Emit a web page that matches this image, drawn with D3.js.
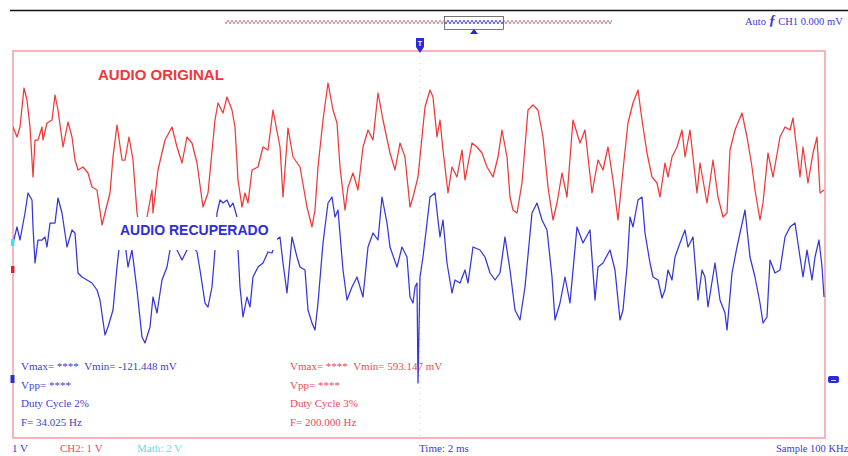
<!DOCTYPE html>
<html>
<head>
<meta charset="utf-8">
<script src="https://cdn.jsdelivr.net/npm/d3@7"></script>
<style>
  html, body { margin: 0; padding: 0; background: #fff; }
  svg { display: block; }
</style>
</head>
<body>
<div id="scope"></div>
<script>
// Time axis in ms (2 ms/div), amplitude in volts (1 V/div)
const originalTime = [0,0.1,0.175,0.275,0.35,0.425,0.5,0.55,0.625,0.725,0.75,0.85,0.975,1.05,1.125,1.25,1.375,1.475,1.55,1.625,1.75,1.875,1.975,2.1,2.225,2.3,2.425,2.5,2.6,2.725,2.8,2.9,3.0,3.1,3.225,3.35,3.475,3.5,3.625,3.8,3.975,4.1,4.225,4.35,4.475,4.6,4.75,4.875,5.05,5.125,5.25,5.35,5.475,5.55,5.625,5.725,5.8,5.875,5.975,6.125,6.25,6.375,6.5,6.675,6.75,6.875,7.0,7.175,7.35,7.475,7.55,7.625,7.75,7.875,8.0,8.1,8.175,8.3,8.375,8.5,8.625,8.75,8.875,9.0,9.125,9.25,9.425,9.55,9.675,9.8,9.925,10.0,10.125,10.3,10.425,10.5,10.6,10.675,10.75,10.875,10.975,11.1,11.225,11.3,11.475,11.6,11.725,11.85,12.0,12.125,12.225,12.35,12.425,12.5,12.6,12.725,12.875,13.0,13.125,13.25,13.375,13.5,13.6,13.725,13.85,14.0,14.175,14.3,14.475,14.625,14.75,14.875,15.0,15.125,15.25,15.375,15.5,15.625,15.725,15.85,15.975,16.1,16.175,16.3,16.375,16.475,16.6,16.725,16.8,16.925,17.1,17.175,17.35,17.5,17.625,17.75,17.85,17.925,18.05,18.225,18.35,18.475,18.55,18.675,18.75,18.875,19.0,19.175,19.3,19.425,19.5,19.675,19.75,19.875,20.0,20.1,20.175,20.275];
const originalVolts = [2.34,2.14,2.34,3.12,2.88,2.34,1.34,2.08,2.08,2.34,2.08,2.42,2.48,2.98,2.68,1.94,2.44,2.14,1.68,1.48,1.54,1.42,1.14,1.08,0.38,0.62,1.02,1.74,2.38,1.68,1.68,2.14,1.68,0.62,0.08,0.54,1.08,0.62,1.48,2.08,2.34,1.94,1.62,2.14,2.02,1.62,0.74,1.02,2.48,2.82,2.62,2.94,2.68,2.34,1.28,0.74,1.02,0.82,1.48,1.54,1.94,1.88,2.68,1.94,0.94,2.32,1.74,1.54,0.74,0.34,0.68,1.54,2.48,3.22,2.68,2.42,1.54,0.68,1.14,1.42,1.08,1.94,2.28,2.08,3.02,2.48,1.82,1.48,2.02,1.74,0.74,0.94,1.34,2.74,3.08,2.94,2.14,2.48,1.88,1.02,1.54,1.34,1.88,1.28,2.02,1.94,1.82,1.54,1.34,1.74,2.28,1.74,0.94,0.68,0.62,1.22,2.68,2.78,2.68,2.14,1.14,0.48,0.82,1.42,0.94,2.48,2.02,2.28,1.02,1.68,1.48,1.94,1.28,0.48,1.48,2.42,2.82,3.08,2.48,1.82,1.34,1.22,0.94,1.62,1.34,1.74,1.94,2.28,1.74,2.28,1.02,1.62,0.82,1.68,0.94,0.54,0.62,1.88,2.28,2.62,2.14,1.54,1.08,0.48,0.82,1.82,1.34,2.14,2.34,2.28,2.52,1.34,1.94,1.22,1.82,2.14,1.02,1.08];

const recoveredTime = [0,0.1,0.175,0.3,0.375,0.475,0.5,0.55,0.625,0.725,0.8,0.85,0.925,1.05,1.125,1.225,1.35,1.475,1.55,1.625,1.725,1.85,1.975,2.1,2.175,2.3,2.375,2.5,2.6,2.675,2.775,2.875,2.975,3.1,3.225,3.3,3.425,3.5,3.6,3.725,3.85,3.925,4.025,4.1,4.225,4.35,4.475,4.6,4.675,4.8,4.875,4.975,5.05,5.1,5.175,5.25,5.35,5.425,5.5,5.6,5.625,5.675,5.75,5.85,5.925,6.0,6.125,6.25,6.375,6.475,6.575,6.675,6.75,6.85,6.975,7.1,7.175,7.3,7.375,7.475,7.55,7.625,7.75,7.875,7.975,8.05,8.125,8.25,8.35,8.475,8.6,8.75,8.875,9.0,9.125,9.225,9.35,9.425,9.6,9.725,9.85,9.925,10.0,10.05,10.1,10.125,10.175,10.25,10.35,10.425,10.55,10.625,10.675,10.75,10.85,10.975,11.05,11.175,11.3,11.375,11.5,11.675,11.8,11.925,12.05,12.175,12.3,12.425,12.55,12.675,12.8,12.975,13.1,13.225,13.35,13.475,13.55,13.675,13.8,13.925,14.1,14.25,14.425,14.55,14.625,14.75,14.925,15.05,15.175,15.25,15.35,15.425,15.5,15.625,15.725,15.8,15.925,16.0,16.125,16.225,16.3,16.375,16.475,16.55,16.675,16.8,16.875,17.0,17.125,17.225,17.3,17.375,17.55,17.675,17.8,17.85,17.975,18.1,18.3,18.425,18.55,18.675,18.75,18.85,18.925,19.05,19.175,19.3,19.425,19.55,19.675,19.75,19.85,19.975,20.05,20.15,20.225,20.275];
const recoveredVolts = [0.02,0.34,0.08,0.62,1.02,0.88,0.34,-0.38,0.08,0.08,0.14,-0.06,0.42,0.42,0.92,0.62,-0.06,0.28,0.22,-0.58,-0.66,-0.72,-0.78,-0.92,-1.12,-1.82,-1.66,-1.32,-0.46,0.08,0.18,-0.46,-0.12,-0.92,-1.86,-1.98,-1.66,-1.06,-1.38,-0.72,-0.46,-0.12,0.08,-0.12,-0.32,-0.12,-0.02,-0.16,-0.52,-1.18,-1.26,-0.86,-0.12,0.62,0.88,0.82,0.88,0.74,0.82,0.54,-0.12,-0.86,-1.46,-1.06,-1.26,-0.66,-0.46,-0.38,-0.16,-0.18,0.08,0.14,-0.38,-0.98,0.14,-0.26,-0.46,-0.52,-1.32,-1.58,-1.72,-1.18,0.02,0.82,0.94,0.54,0.68,-0.52,-1.12,-0.86,-0.66,-1.06,-0.06,0.22,0.08,0.94,0.42,-0.06,-0.46,-0.06,-0.26,-1.06,-1.18,-0.86,-0.78,-2.78,-0.66,-0.26,0.42,0.94,1.02,0.48,0.14,0.48,-0.38,-0.98,-0.72,-0.78,-0.52,-0.78,-0.06,-0.12,-0.26,-0.58,-0.72,-0.58,0.14,-0.52,-1.32,-1.52,-0.86,0.62,0.82,0.48,0.28,-0.66,-1.52,-1.18,-0.66,-1.18,0.34,0.02,0.28,-1.12,-0.46,-0.38,-0.12,-0.52,-1.52,-1.32,-0.46,0.54,0.34,0.88,0.94,0.22,-0.38,-0.66,-0.72,-1.08,-0.92,-0.52,-0.72,-0.26,0.02,0.28,-0.06,0.14,-1.12,-0.52,-0.66,-1.26,-0.38,-1.12,-1.38,-1.72,-0.58,-0.06,0.68,-0.26,-0.66,-1.18,-1.58,-1.46,-0.32,-0.58,-0.52,0.14,0.34,0.42,-0.26,-0.66,-0.12,-0.72,-0.26,0.08,-0.46,-1.06];

// Readouts
const ch1Readout = ["Vmax= ****  Vmin= -121.448 mV", "Vpp= ****", "Duty Cycle 2%", "F= 34.025 Hz"];
const ch2Readout = ["Vmax= ****  Vmin= 593.147 mV", "Vpp= ****", "Duty Cycle 3%", "F= 200.000 Hz"];
const statusItems = [
  { text: "1 V", color: "#3a3ad8", x: 12 },
  { text: "CH2: 1 V", color: "#f04a5a", x: 60 },
  { text: "Math: 2 V", color: "#5fe0ea", x: 137 },
  { text: "Time: 2 ms", color: "#3a3ad8", x: 419 },
  { text: "Sample 100 KHz", color: "#3a3ad8", x: 776 }
];

const W = 848, H = 456;
const RED = "#f03838", BLUE = "#3535dc", FRAME = "#f6a2ac";
const serif = "'Liberation Serif', 'Times New Roman', serif";
const sans = "'Liberation Sans', Arial, sans-serif";

const svg = d3.select("#scope").append("svg").attr("width", W).attr("height", H);
const plot = { left: 13, right: 825, top: 51, bottom: 438 };

const x = d3.scaleLinear().domain([0, 20.3]).range([plot.left, plot.right]);
const y = d3.scaleLinear().domain([-3.88, 3.86]).range([plot.bottom, plot.top]);

const defs = svg.append("defs");
defs.append("clipPath").attr("id", "plotClip")
  .append("rect").attr("x", plot.left).attr("y", plot.top)
  .attr("width", plot.right - plot.left).attr("height", plot.bottom - plot.top);

// Zigzag tiles for the record overview strip
function zigPattern(id, color) {
  const p = defs.append("pattern").attr("id", id).attr("patternUnits", "userSpaceOnUse")
    .attr("width", 4).attr("height", 8).attr("x", 0).attr("y", 18);
  p.append("path").attr("d", "M0,2 L2,6 L4,2").attr("fill", "none")
    .attr("stroke", color).attr("stroke-width", 1);
}
zigPattern("zigGrey", "#b88a90");
zigPattern("zigBlue", "#4a4ad0");

// Top rule
svg.append("line").attr("x1", 10).attr("x2", W).attr("y1", 10.5).attr("y2", 10.5)
  .attr("stroke", "#111").attr("stroke-width", 1.5);

// Overview strip
svg.append("rect").attr("x", 225).attr("y", 18).attr("width", 387).attr("height", 8)
  .attr("fill", "url(#zigGrey)");
svg.append("rect").attr("x", 444).attr("y", 18).attr("width", 59).attr("height", 8)
  .attr("fill", "#fff");
svg.append("rect").attr("x", 445).attr("y", 18).attr("width", 58).attr("height", 8)
  .attr("fill", "url(#zigBlue)");
svg.append("rect").attr("x", 444.5).attr("y", 16.5).attr("width", 59).attr("height", 13)
  .attr("fill", "none").attr("stroke", "#555").attr("stroke-width", 0.8);
svg.append("path").attr("d", "M470,34 L474,29 L478,34 Z").attr("fill", "#2a2ad0");

// Trigger readout
const trig = svg.append("text").attr("x", 745).attr("y", 25)
  .attr("font-family", serif).attr("font-size", 10.5).attr("fill", "#3a3ad8");
trig.append("tspan").text("Auto ");
trig.append("tspan").attr("font-size", 14).attr("font-weight", "bold").attr("font-style", "italic").text("ƒ");
trig.append("tspan").text(" CH1  0.000 mV");

// Screen frame
svg.append("rect").attr("x", plot.left).attr("y", plot.top)
  .attr("width", plot.right - plot.left).attr("height", plot.bottom - plot.top)
  .attr("fill", "#fff").attr("stroke", FRAME).attr("stroke-width", 1.6);

// Trigger position guide
svg.append("line").attr("x1", 420).attr("x2", 420).attr("y1", plot.top).attr("y2", plot.bottom)
  .attr("stroke", "#c8c8d8").attr("stroke-width", 1).attr("stroke-dasharray", "1,5");

// Traces
const line = d3.line().x(d => x(d[0])).y(d => y(d[1]));
const traces = svg.append("g").attr("clip-path", "url(#plotClip)");
traces.append("path").datum(d3.zip(originalTime, originalVolts))
  .attr("d", line).attr("fill", "none").attr("stroke", RED)
  .attr("stroke-width", 1.25).attr("stroke-linejoin", "round");
traces.append("path").datum(d3.zip(recoveredTime, recoveredVolts))
  .attr("d", line).attr("fill", "none").attr("stroke", BLUE)
  .attr("stroke-width", 1.25).attr("stroke-linejoin", "round");

// Channel labels
svg.append("text").attr("x", 98).attr("y", 80).attr("font-family", sans)
  .attr("font-weight", "bold").attr("font-size", 15).attr("fill", RED).text("AUDIO ORIGINAL");
svg.append("rect").attr("x", 117).attr("y", 217).attr("width", 160).attr("height", 33).attr("fill", "#fff");
svg.append("text").attr("x", 120).attr("y", 235).attr("font-family", sans)
  .attr("font-weight", "bold").attr("font-size", 14).attr("fill", "#2e2ed8").text("AUDIO RECUPERADO");

// Measurement readouts
function readout(lines, x0, color) {
  svg.append("g").selectAll("text").data(lines).join("text")
    .attr("x", x0).attr("y", (d, i) => 370 + i * 18.5)
    .attr("font-family", serif).attr("font-size", 11).attr("fill", color)
    .attr("xml:space", "preserve").style("white-space", "pre").text(d => d);
}
readout(ch1Readout, 21, "#4040d0");
readout(ch2Readout, 290, "#f04858");

// Channel level markers
svg.append("rect").attr("x", 11).attr("y", 239).attr("width", 3.5).attr("height", 7).attr("fill", "#40e0e8");
svg.append("rect").attr("x", 11).attr("y", 266).attr("width", 3.5).attr("height", 7).attr("fill", "#e02030");
svg.append("rect").attr("x", 10.5).attr("y", 375).attr("width", 4).attr("height", 8).attr("fill", "#2a2ad8");
svg.append("rect").attr("x", 828).attr("y", 376).attr("width", 11).attr("height", 7).attr("rx", 2)
  .attr("fill", "#2a2ad8");
svg.append("line").attr("x1", 831).attr("x2", 836).attr("y1", 380.5).attr("y2", 380.5)
  .attr("stroke", "#fff").attr("stroke-width", 0.8);

// Trigger time marker
svg.append("rect").attr("x", 416).attr("y", 38).attr("width", 8).attr("height", 9).attr("fill", "#2a2ad8");
svg.append("text").attr("x", 420).attr("y", 45.5).attr("text-anchor", "middle")
  .attr("font-family", sans).attr("font-size", 7).attr("font-weight", "bold").attr("fill", "#fff").text("T");
svg.append("path").attr("d", "M416,47 L424,47 L420,53 Z").attr("fill", "#2a2ad8");

// Status bar
svg.append("g").selectAll("text").data(statusItems).join("text")
  .attr("x", d => d.x).attr("y", 452)
  .attr("font-family", serif).attr("font-size", d => d.x > 700 ? 10.5 : 11).attr("fill", d => d.color)
  .text(d => d.text);
</script>
</body>
</html>
